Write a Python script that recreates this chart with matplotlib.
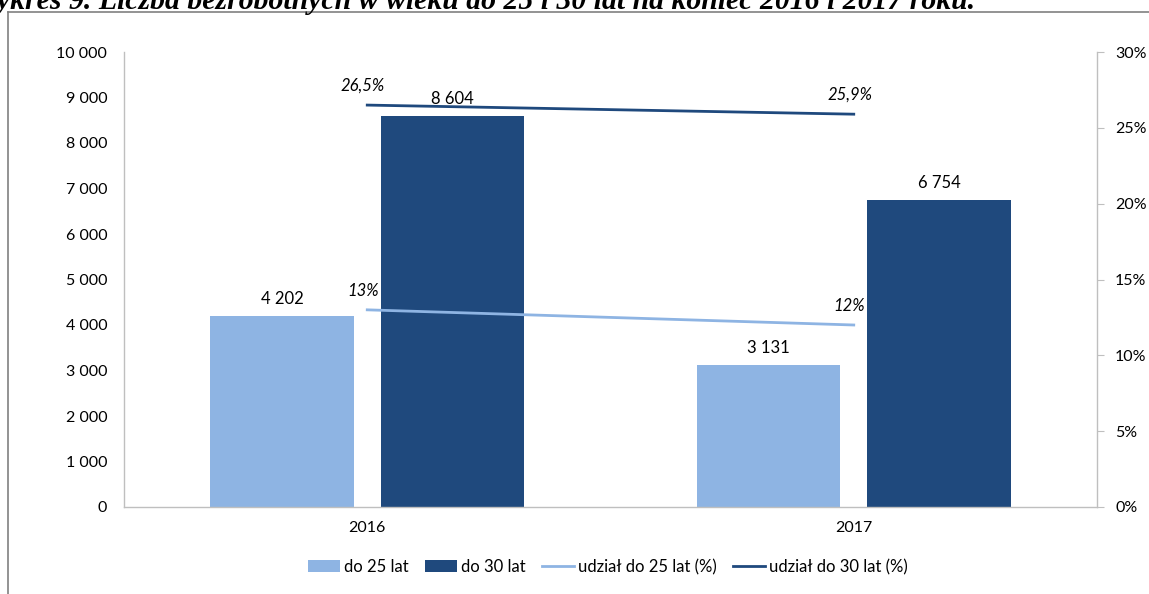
import numpy as np
import matplotlib.pyplot as plt
from matplotlib.lines import Line2D
from matplotlib.ticker import FuncFormatter

years = ["2016", "2017"]
do25 = [4202, 3131]
do30 = [8604, 6754]
udzial25 = [0.13, 0.12]
udzial30 = [0.265, 0.259]
udzial25_lbl = ["13%", "12%"]
udzial30_lbl = ["26,5%", "25,9%"]

light = "#8EB4E3"
dark = "#1F497D"
grey = "#BFBFBF"

plt.rcParams['font.family'] = ['Lato', 'DejaVu Sans']

W, H = 1149, 594
fig = plt.figure(figsize=(W / 100, H / 100), dpi=100)
ax = fig.add_axes([124 / W, 1 - 507 / H, (1097 - 124) / W, (507 - 52) / H])
ax2 = ax.twinx()

x = np.arange(len(years))
w = 0.295
off = 0.175
b1 = ax.bar(x - off, do25, w, color=light, label="do 25 lat", zorder=2)
b2 = ax.bar(x + off, do30, w, color=dark, label="do 30 lat", zorder=2)

def spaced(v):
    return f"{int(v):,}".replace(",", " ")

for bars, vals in ((b1, do25), (b2, do30)):
    for r, v in zip(bars, vals):
        ax.annotate(spaced(v), (r.get_x() + r.get_width() / 2, v), xytext=(0, 6),
                    textcoords="offset points", ha="center", va="bottom", fontsize=12)

l1, = ax2.plot(x, udzial25, color=light, lw=2, label="udział do 25 lat (%)", zorder=3)
l2, = ax2.plot(x, udzial30, color=dark, lw=2, label="udział do 30 lat (%)", zorder=3)
for vals, lbls in ((udzial25, udzial25_lbl), (udzial30, udzial30_lbl)):
    for xi, v, t in zip(x, vals, lbls):
        ax2.annotate(t, (xi, v), xytext=(-3, 8), textcoords="offset points",
                     ha="center", va="bottom", fontsize=12, style="italic")

ax.set_xlim(-0.5, 1.5)
ax.set_ylim(0, 10000)
ax.set_yticks(np.arange(0, 10001, 1000))
ax.yaxis.set_major_formatter(FuncFormatter(lambda v, p: spaced(v)))
ax2.set_ylim(0, 0.3)
ax2.set_yticks(np.arange(0, 0.301, 0.05))
ax2.yaxis.set_major_formatter(FuncFormatter(lambda v, p: f"{round(v * 100)}%"))
ax.set_xticks(x)
ax.set_xticklabels(years)

for a in (ax, ax2):
    for s in a.spines.values():
        s.set_visible(False)
ax.spines["left"].set_visible(True)
ax.spines["bottom"].set_visible(True)
ax2.spines["right"].set_visible(True)
for s in (ax.spines["left"], ax.spines["bottom"], ax2.spines["right"]):
    s.set_color(grey)
    s.set_linewidth(1)
ax.tick_params(axis="y", length=0, labelsize=11.5, pad=12)
ax.tick_params(axis="x", length=0, labelsize=11.5, pad=10)
ax2.tick_params(axis="y", length=5, color=grey, labelsize=11.5, pad=8)

handles = [b1, b2, l1, l2]
fig.legend(handles, [h.get_label() for h in handles], loc="center",
           bbox_to_anchor=(608 / W, 1 - 567 / H), ncol=4, frameon=False,
           fontsize=12, handlelength=1.9, handleheight=0.7, handletextpad=0.25,
           columnspacing=1.0)

# outer frame of the chart, partly outside the picture
frame_c = "#808080"
fig.add_artist(Line2D([8 / W, 8 / W], [0, 1 - 12 / H], color=frame_c, lw=1.2))
fig.add_artist(Line2D([8 / W, 1], [1 - 12 / H, 1 - 12 / H], color=frame_c, lw=1.2))

# title sits mostly above the picture, as in the source page crop
fig.text(975 / W, 1 - 9 / H,
         "Wykres 9. Liczba bezrobotnych w wieku do 25 i 30 lat na koniec 2016 i 2017 roku.",
         ha="right", va="baseline", fontsize=21.4, family="Liberation Serif",
         weight="bold", style="italic")

fig.savefig("out.png", dpi=100)
